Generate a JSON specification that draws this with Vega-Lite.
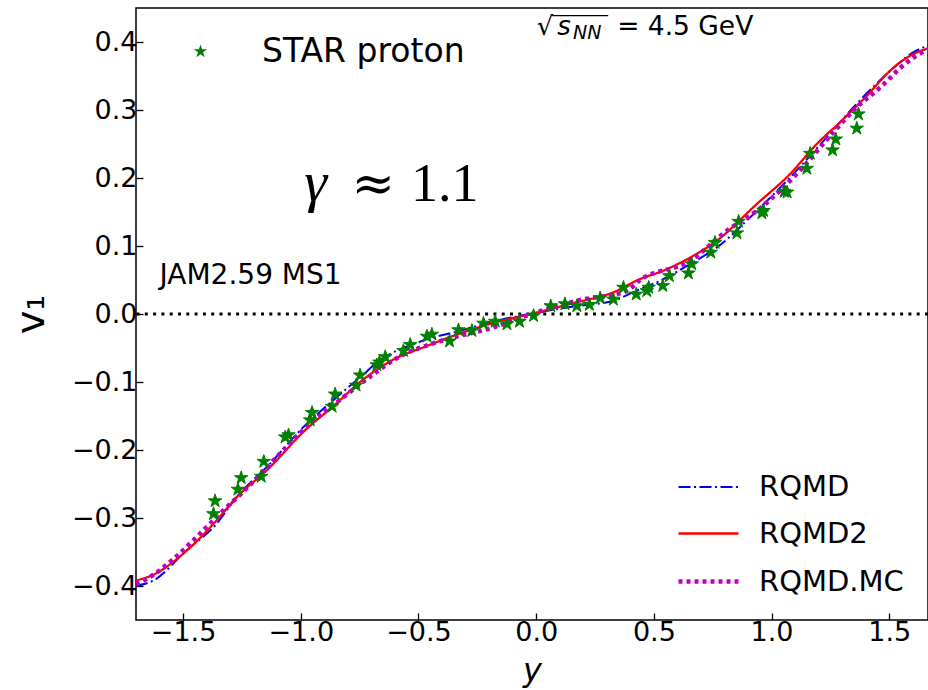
{
  "$schema": "https://vega.github.io/schema/vega-lite/v6.json",
  "width": 792,
  "height": 612,
  "autosize": {"type": "none"},
  "padding": {"left": 136, "top": 8, "right": 0, "bottom": 70},
  "background": "white",
  "config": {
    "font": "DejaVu Sans",
    "view": {"stroke": "black", "strokeWidth": 1.5},
    "axis": {"grid": false, "domain": false, "tickColor": "black", "tickWidth": 1.3, "tickSize": -7, "labelColor": "black", "labelFont": "DejaVu Sans", "labelFontSize": 27, "titleColor": "black", "titleFont": "DejaVu Sans", "titleFontWeight": "normal"}
  },
  "datasets": {
    "star": [
      {"x": -1.371, "v1": -0.294}, {"x": -1.364, "v1": -0.275},
      {"x": -1.267, "v1": -0.258}, {"x": -1.253, "v1": -0.241},
      {"x": -1.168, "v1": -0.239}, {"x": -1.157, "v1": -0.217},
      {"x": -1.066, "v1": -0.181}, {"x": -1.052, "v1": -0.178},
      {"x": -0.960, "v1": -0.156}, {"x": -0.952, "v1": -0.145},
      {"x": -0.867, "v1": -0.136}, {"x": -0.854, "v1": -0.118},
      {"x": -0.765, "v1": -0.105}, {"x": -0.748, "v1": -0.090},
      {"x": -0.677, "v1": -0.075}, {"x": -0.666, "v1": -0.071},
      {"x": -0.641, "v1": -0.063}, {"x": -0.564, "v1": -0.054},
      {"x": -0.535, "v1": -0.045}, {"x": -0.464, "v1": -0.033},
      {"x": -0.443, "v1": -0.030}, {"x": -0.368, "v1": -0.040},
      {"x": -0.330, "v1": -0.0235}, {"x": -0.273, "v1": -0.0246},
      {"x": -0.224, "v1": -0.0138}, {"x": -0.174, "v1": -0.011},
      {"x": -0.124, "v1": -0.0147}, {"x": -0.071, "v1": -0.011},
      {"x": -0.011, "v1": -0.0025}, {"x": 0.062, "v1": 0.0118},
      {"x": 0.122, "v1": 0.0147}, {"x": 0.173, "v1": 0.0118},
      {"x": 0.226, "v1": 0.0137}, {"x": 0.272, "v1": 0.0235},
      {"x": 0.328, "v1": 0.0215}, {"x": 0.371, "v1": 0.039},
      {"x": 0.425, "v1": 0.029}, {"x": 0.470, "v1": 0.034},
      {"x": 0.478, "v1": 0.039}, {"x": 0.538, "v1": 0.0416},
      {"x": 0.566, "v1": 0.056}, {"x": 0.647, "v1": 0.060},
      {"x": 0.661, "v1": 0.0735}, {"x": 0.742, "v1": 0.0906},
      {"x": 0.760, "v1": 0.105}, {"x": 0.853, "v1": 0.119},
      {"x": 0.860, "v1": 0.136}, {"x": 0.959, "v1": 0.1485},
      {"x": 0.966, "v1": 0.152}, {"x": 1.054, "v1": 0.180},
      {"x": 1.066, "v1": 0.179}, {"x": 1.150, "v1": 0.214},
      {"x": 1.164, "v1": 0.236}, {"x": 1.259, "v1": 0.241},
      {"x": 1.273, "v1": 0.257}, {"x": 1.362, "v1": 0.273},
      {"x": 1.369, "v1": 0.294}
    ],
    "models": [
      {"model": "RQMD", "x": -1.70, "v1": -0.400},
      {"model": "RQMD", "x": -1.626, "v1": -0.392},
      {"model": "RQMD", "x": -1.487, "v1": -0.348},
      {"model": "RQMD", "x": -1.359, "v1": -0.309},
      {"model": "RQMD", "x": -1.274, "v1": -0.270},
      {"model": "RQMD", "x": -1.133, "v1": -0.221},
      {"model": "RQMD", "x": -0.991, "v1": -0.167},
      {"model": "RQMD", "x": -0.850, "v1": -0.123},
      {"model": "RQMD", "x": -0.748, "v1": -0.093},
      {"model": "RQMD", "x": -0.663, "v1": -0.068},
      {"model": "RQMD", "x": -0.493, "v1": -0.0407},
      {"model": "RQMD", "x": -0.323, "v1": -0.0246},
      {"model": "RQMD", "x": -0.153, "v1": -0.0088},
      {"model": "RQMD", "x": -0.011, "v1": 0.001},
      {"model": "RQMD", "x": 0.130, "v1": 0.0097},
      {"model": "RQMD", "x": 0.328, "v1": 0.0196},
      {"model": "RQMD", "x": 0.442, "v1": 0.0368},
      {"model": "RQMD", "x": 0.527, "v1": 0.049},
      {"model": "RQMD", "x": 0.654, "v1": 0.0735},
      {"model": "RQMD", "x": 0.768, "v1": 0.098},
      {"model": "RQMD", "x": 0.938, "v1": 0.152},
      {"model": "RQMD", "x": 1.079, "v1": 0.201},
      {"model": "RQMD", "x": 1.235, "v1": 0.260},
      {"model": "RQMD", "x": 1.348, "v1": 0.304},
      {"model": "RQMD", "x": 1.490, "v1": 0.353},
      {"model": "RQMD", "x": 1.603, "v1": 0.385},
      {"model": "RQMD", "x": 1.700, "v1": 0.398},
      {"model": "RQMD2", "x": -1.70, "v1": -0.392},
      {"model": "RQMD2", "x": -1.618, "v1": -0.382},
      {"model": "RQMD2", "x": -1.501, "v1": -0.353},
      {"model": "RQMD2", "x": -1.359, "v1": -0.304},
      {"model": "RQMD2", "x": -1.274, "v1": -0.270},
      {"model": "RQMD2", "x": -1.133, "v1": -0.226},
      {"model": "RQMD2", "x": -0.991, "v1": -0.174},
      {"model": "RQMD2", "x": -0.850, "v1": -0.132},
      {"model": "RQMD2", "x": -0.748, "v1": -0.100},
      {"model": "RQMD2", "x": -0.606, "v1": -0.067},
      {"model": "RQMD2", "x": -0.464, "v1": -0.047},
      {"model": "RQMD2", "x": -0.351, "v1": -0.032},
      {"model": "RQMD2", "x": -0.181, "v1": -0.013},
      {"model": "RQMD2", "x": -0.011, "v1": 0.001},
      {"model": "RQMD2", "x": 0.158, "v1": 0.016},
      {"model": "RQMD2", "x": 0.328, "v1": 0.032},
      {"model": "RQMD2", "x": 0.442, "v1": 0.0515},
      {"model": "RQMD2", "x": 0.527, "v1": 0.062},
      {"model": "RQMD2", "x": 0.654, "v1": 0.083},
      {"model": "RQMD2", "x": 0.768, "v1": 0.108},
      {"model": "RQMD2", "x": 0.938, "v1": 0.162},
      {"model": "RQMD2", "x": 1.079, "v1": 0.206},
      {"model": "RQMD2", "x": 1.192, "v1": 0.250},
      {"model": "RQMD2", "x": 1.291, "v1": 0.282},
      {"model": "RQMD2", "x": 1.405, "v1": 0.321},
      {"model": "RQMD2", "x": 1.504, "v1": 0.358},
      {"model": "RQMD2", "x": 1.575, "v1": 0.377},
      {"model": "RQMD2", "x": 1.660, "v1": 0.390},
      {"model": "RQMD2", "x": 1.700, "v1": 0.393},
      {"model": "RQMD.MC", "x": -1.70, "v1": -0.397},
      {"model": "RQMD.MC", "x": -1.657, "v1": -0.390},
      {"model": "RQMD.MC", "x": -1.543, "v1": -0.361},
      {"model": "RQMD.MC", "x": -1.437, "v1": -0.326},
      {"model": "RQMD.MC", "x": -1.338, "v1": -0.292},
      {"model": "RQMD.MC", "x": -1.232, "v1": -0.257},
      {"model": "RQMD.MC", "x": -1.104, "v1": -0.211},
      {"model": "RQMD.MC", "x": -0.963, "v1": -0.162},
      {"model": "RQMD.MC", "x": -0.821, "v1": -0.123},
      {"model": "RQMD.MC", "x": -0.705, "v1": -0.092},
      {"model": "RQMD.MC", "x": -0.592, "v1": -0.065},
      {"model": "RQMD.MC", "x": -0.408, "v1": -0.040},
      {"model": "RQMD.MC", "x": -0.181, "v1": -0.0197},
      {"model": "RQMD.MC", "x": -0.011, "v1": 0.001},
      {"model": "RQMD.MC", "x": 0.173, "v1": 0.0196},
      {"model": "RQMD.MC", "x": 0.385, "v1": 0.034},
      {"model": "RQMD.MC", "x": 0.442, "v1": 0.050},
      {"model": "RQMD.MC", "x": 0.654, "v1": 0.078},
      {"model": "RQMD.MC", "x": 0.810, "v1": 0.1225},
      {"model": "RQMD.MC", "x": 0.938, "v1": 0.152},
      {"model": "RQMD.MC", "x": 1.121, "v1": 0.211},
      {"model": "RQMD.MC", "x": 1.249, "v1": 0.262},
      {"model": "RQMD.MC", "x": 1.362, "v1": 0.304},
      {"model": "RQMD.MC", "x": 1.461, "v1": 0.333},
      {"model": "RQMD.MC", "x": 1.575, "v1": 0.370},
      {"model": "RQMD.MC", "x": 1.660, "v1": 0.388},
      {"model": "RQMD.MC", "x": 1.700, "v1": 0.392}
    ],
    "one": [{"k": 1}]
  },
  "encoding": {
    "x": {"type": "quantitative", "scale": {"domain": [-1.7, 1.6646], "nice": false, "zero": false},
      "axis": {"values": [-1.5, -1.0, -0.5, 0.0, 0.5, 1.0, 1.5], "format": ".1f", "labelPadding": 6, "title": "y", "titleFontSize": 32, "titleFontStyle": "italic", "titlePadding": 10}},
    "y": {"type": "quantitative", "scale": {"domain": [-0.45, 0.45], "nice": false, "zero": false},
      "axis": {"values": [-0.4, -0.3, -0.2, -0.1, 0.0, 0.1, 0.2, 0.3, 0.4], "format": ".1f", "labelPadding": 6, "title": "v₁", "titleFontSize": 40, "titlePadding": 20}}
  },
  "layer": [
    {
      "data": {"name": "one"},
      "mark": {"type": "rule", "color": "black", "strokeWidth": 3, "strokeDash": [3, 5.3]},
      "encoding": {"y": {"datum": 0}}
    },
    {
      "data": {"name": "models"},
      "mark": {"type": "line", "interpolate": "monotone", "clip": true},
      "encoding": {
        "x": {"field": "x"},
        "y": {"field": "v1"},
        "color": {"field": "model", "type": "nominal", "scale": {"domain": ["RQMD", "RQMD2", "RQMD.MC"], "range": ["#0000ff", "#ff0000", "#bf00bf"]},
          "legend": {"title": null, "orient": "none", "legendX": 540, "legendY": 448, "symbolType": "stroke", "symbolSize": 3600, "labelFontSize": 29, "labelColor": "black", "labelOffset": 18, "rowPadding": -5.5, "padding": 0, "labelLimit": 400}},
        "strokeDash": {"field": "model", "type": "nominal", "scale": {"domain": ["RQMD", "RQMD2", "RQMD.MC"], "range": [[12, 3.5, 2, 3.5], [1, 0], [4, 4]]},
          "legend": {"title": null, "orient": "none", "legendX": 540, "legendY": 448, "symbolType": "stroke", "symbolSize": 3600, "labelFontSize": 29, "labelColor": "black", "labelOffset": 18, "rowPadding": -5.5, "padding": 0, "labelLimit": 400}},
        "strokeWidth": {"field": "model", "type": "nominal", "scale": {"type": "ordinal", "domain": ["RQMD", "RQMD2", "RQMD.MC"], "range": [2, 2.3, 4.5]},
          "legend": {"title": null, "orient": "none", "legendX": 540, "legendY": 448, "symbolType": "stroke", "symbolSize": 3600, "labelFontSize": 29, "labelColor": "black", "labelOffset": 18, "rowPadding": -5.5, "padding": 0, "labelLimit": 400}}
      }
    },
    {
      "data": {"name": "star"},
      "transform": [{"calculate": "'STAR proton'", "as": "src"}],
      "mark": {"type": "point", "filled": true, "color": "#008000", "stroke": "#008000", "strokeWidth": 1, "opacity": 1, "size": 200},
      "encoding": {
        "x": {"field": "x"},
        "y": {"field": "v1"},
        "shape": {"field": "src", "type": "nominal", "scale": {"domain": ["STAR proton"], "range": ["M0,-1L0.2245,-0.309L0.9511,-0.309L0.3633,0.118L0.5878,0.809L0,0.382L-0.5878,0.809L-0.3633,0.118L-0.9511,-0.309L-0.2245,-0.309Z"]},
          "legend": {"title": null, "orient": "none", "legendX": 48, "legendY": 27, "symbolSize": 200, "symbolFillColor": "#008000", "symbolStrokeColor": "#008000", "symbolStrokeWidth": 1, "symbolOpacity": 1, "labelFontSize": 33, "labelColor": "black", "labelOffset": 45, "padding": 0, "labelLimit": 400}}
      }
    },
    {
      "data": {"name": "one"},
      "mark": {"type": "text", "font": "Liberation Serif", "fontSize": 58, "fontStyle": "italic", "align": "left", "baseline": "alphabetic", "color": "black"},
      "encoding": {"x": {"datum": -0.985}, "y": {"datum": 0.1666}, "text": {"value": "γ"}}
    },
    {
      "data": {"name": "one"},
      "mark": {"type": "text", "font": "DejaVu Serif", "fontSize": 52, "align": "left", "baseline": "alphabetic", "color": "black"},
      "encoding": {"x": {"datum": -0.785}, "y": {"datum": 0.1666}, "text": {"value": "≈"}}
    },
    {
      "data": {"name": "one"},
      "mark": {"type": "text", "font": "Liberation Serif", "fontSize": 54, "align": "left", "baseline": "alphabetic", "color": "black"},
      "encoding": {"x": {"datum": -0.532}, "y": {"datum": 0.1666}, "text": {"value": "1.1"}}
    },
    {
      "data": {"name": "one"},
      "mark": {"type": "text", "fontSize": 28, "align": "left", "baseline": "alphabetic", "color": "black"},
      "encoding": {"x": {"datum": -1.600}, "y": {"datum": 0.0446}, "text": {"value": "JAM2.59 MS1"}}
    },
    {
      "data": {"name": "one"},
      "mark": {"type": "text", "fontSize": 26, "align": "left", "baseline": "alphabetic", "color": "black"},
      "encoding": {"x": {"datum": 0.002}, "y": {"datum": 0.411}, "text": {"value": "√"}}
    },
    {
      "data": {"name": "one"},
      "mark": {"type": "text", "fontSize": 26, "fontStyle": "italic", "align": "left", "baseline": "alphabetic", "color": "black"},
      "encoding": {"x": {"datum": 0.090}, "y": {"datum": 0.411}, "text": {"value": "s"}}
    },
    {
      "data": {"name": "one"},
      "mark": {"type": "text", "fontSize": 19, "fontStyle": "italic", "align": "left", "baseline": "alphabetic", "color": "black"},
      "encoding": {"x": {"datum": 0.157}, "y": {"datum": 0.405}, "text": {"value": "NN"}}
    },
    {
      "data": {"name": "one"},
      "mark": {"type": "rule", "color": "black", "strokeWidth": 1.3},
      "encoding": {"x": {"datum": 0.068}, "x2": {"datum": 0.306}, "y": {"datum": 0.4387}}
    },
    {
      "data": {"name": "one"},
      "mark": {"type": "text", "fontSize": 26.5, "align": "left", "baseline": "alphabetic", "color": "black"},
      "encoding": {"x": {"datum": 0.344}, "y": {"datum": 0.411}, "text": {"value": "= 4.5 GeV"}}
    }
  ]
}
